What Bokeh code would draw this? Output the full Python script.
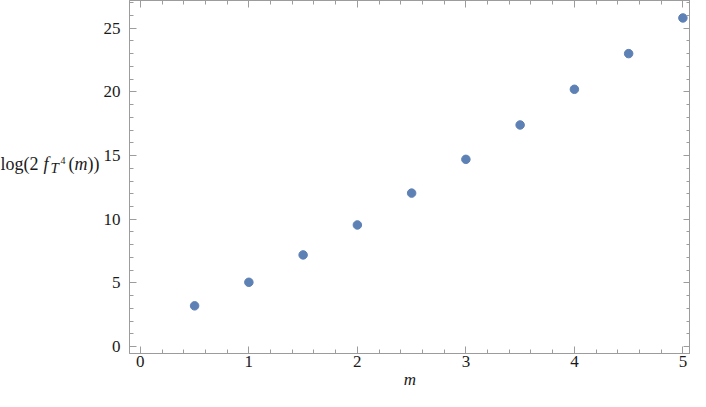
from bokeh.plotting import figure
from bokeh.models import Range1d, LinearAxis, SingleIntervalTicker
from bokeh.layouts import row
from bokeh.core.properties import value
from bokeh.embed import file_html
from bokeh.resources import INLINE

# data
m_values = [0.5, 1.0, 1.5, 2.0, 2.5, 3.0, 3.5, 4.0, 4.5, 5.0]
log_values = [3.2, 5.05, 7.2, 9.55, 12.05, 14.7, 17.4, 20.2, 23.0, 25.8]
x_tick_interval = 1
y_tick_interval = 5

FONT = "Liberation Serif"
AX_COLOR = "#9c9c9c"
TXT_COLOR = "#1a1a1a"
PT_COLOR = "#5E81B5"

X0, X1 = -0.1, 5.07
Y0, Y1 = -0.54, 27.17
H = 391
W = 690
LABEL_W = 100

# ---- y-axis title panel: log(2 f_{T^4}(m)) ----
lab = figure(width=LABEL_W, height=H, output_backend="svg", toolbar_location=None,
             x_range=Range1d(0, LABEL_W), y_range=Range1d(0, H),
             x_axis_location=None, y_axis_location=None, min_border=0)
lab.grid.visible = False
lab.outline_line_color = None
BASE = 181
pieces = [
    ("log(2", 0, BASE, "18px", "normal"),
    ("f", 43, BASE, "18px", "italic"),
    ("T", 50, BASE + 4, "15px", "italic"),
    ("4", 60, BASE - 4, "10px", "normal"),
    ("(", 68, BASE, "18px", "normal"),
    ("m", 74, BASE, "18px", "italic"),
    ("))", 87, BASE, "18px", "normal"),
]
for txt, px, py, size, style in pieces:
    lab.text(x=[px], y=[H - py], text=[txt], text_font=value(FONT),
             text_font_size=value(size), text_font_style=value(style),
             text_color=TXT_COLOR, text_baseline="alphabetic", text_align="left")

# ---- main plot ----
p = figure(width=W - LABEL_W, height=H, output_backend="svg", toolbar_location=None,
           x_range=Range1d(X0, X1), y_range=Range1d(Y0, Y1),
           x_axis_location=None, y_axis_location=None,
           min_border_left=126 - LABEL_W, min_border_bottom=30,
           min_border_top=0, min_border_right=0)
p.grid.visible = False
p.outline_line_color = AX_COLOR


def style_axis(ax, labels=True):
    ax.axis_line_color = AX_COLOR
    ax.major_tick_line_color = AX_COLOR
    ax.minor_tick_line_color = AX_COLOR
    ax.major_tick_in = 7
    ax.major_tick_out = 0
    ax.minor_tick_in = 4
    ax.minor_tick_out = 0
    ax.major_label_text_font = FONT
    ax.major_label_text_font_size = "17px"
    ax.major_label_text_color = TXT_COLOR
    if not labels:
        ax.major_label_text_font_size = "0px"
        ax.major_label_standoff = 0
        ax.major_label_text_alpha = 0


xb = LinearAxis(ticker=SingleIntervalTicker(interval=x_tick_interval, num_minor_ticks=5))
style_axis(xb)
xb.major_label_standoff = 2
xb.axis_label = "m"
xb.axis_label_text_font = FONT
xb.axis_label_text_font_style = "italic"
xb.axis_label_text_font_size = "17px"
xb.axis_label_text_color = TXT_COLOR
xb.axis_label_standoff = 0
p.add_layout(xb, "below")

xa = LinearAxis(ticker=SingleIntervalTicker(interval=x_tick_interval, num_minor_ticks=5))
style_axis(xa, labels=False)
p.add_layout(xa, "above")

yl = LinearAxis(ticker=SingleIntervalTicker(interval=y_tick_interval, num_minor_ticks=5))
style_axis(yl)
yl.major_label_standoff = 9
p.add_layout(yl, "left")

yr = LinearAxis(ticker=SingleIntervalTicker(interval=y_tick_interval, num_minor_ticks=5))
style_axis(yr, labels=False)
p.add_layout(yr, "right")

p.scatter(m_values, log_values, size=8.5, color=PT_COLOR, line_color=PT_COLOR)

layout = row(lab, p, spacing=0)
open("out.html", "w").write(file_html(layout, INLINE))
